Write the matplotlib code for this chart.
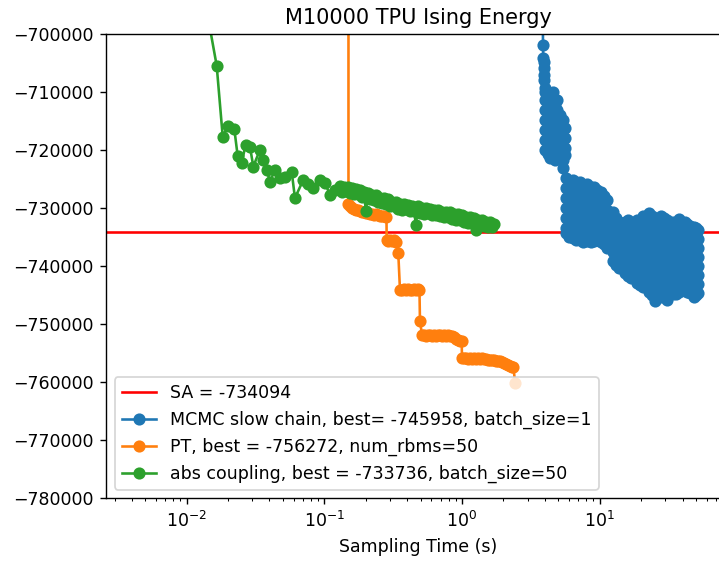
import matplotlib
matplotlib.use('Agg')
import matplotlib.pyplot as plt

# SA reference energy
sa_energy = -734094

# MCMC slow chain (batch_size=1), one row per stretch of samples
mcmc_time = [
    3.86, 3.875, 3.89, 3.91, 3.93, 3.95, 3.97, 3.99, 4.00, 4.58,
    4.01, 4.01, 4.01, 4.01, 4.01, 4.01,
    4.18, 4.18, 4.18, 4.18, 4.18, 4.18,
    4.36, 4.36, 4.36, 4.36, 4.36, 4.36, 4.36,
    4.73, 4.73, 4.73, 4.73, 4.73, 4.73, 4.73,
    4.94, 4.94, 4.94, 4.94, 4.94, 4.94,
    5.15, 5.15, 5.15, 5.15, 5.15,
    5.41, 5.41, 5.41, 5.41, 5.41,
    5.40,
    5.60, 5.60, 5.60, 5.60,
    5.69, 5.69, 5.69, 5.69, 5.69, 5.69, 5.69,
    6.03, 6.03, 6.03, 6.03, 6.03, 6.03, 6.03,
    6.40, 6.40, 6.40, 6.40, 6.40, 6.40, 6.40,
    6.78, 6.78, 6.78, 6.78, 6.78, 6.78, 6.78,
    7.19, 7.19, 7.19, 7.19, 7.19, 7.19, 7.19,
    7.63, 7.63, 7.63, 7.63, 7.63, 7.63, 7.63,
    8.09, 8.09, 8.09, 8.09, 8.09, 8.09, 8.09,
    8.58, 8.58, 8.58, 8.58, 8.58, 8.58, 8.58,
    9.09, 9.09, 9.09, 9.09, 9.09, 9.09, 9.09,
    9.64, 9.64, 9.64, 9.64, 9.64, 9.64,
    10.22, 10.22, 10.22, 10.22, 10.22, 10.22,
    10.75, 10.75, 10.75, 10.75, 10.75, 10.75,
    11.30, 11.30, 11.30, 11.30, 11.30, 11.30,
    12.50, 12.50, 12.50, 12.50, 12.50, 12.50,
    13.13, 13.13, 13.13, 13.13, 13.13, 13.13,
    13.81, 13.81, 13.81, 13.81, 13.81, 13.81,
    15.27, 15.27, 15.27, 15.27, 15.27, 15.27, 15.27,
    16.05, 16.05, 16.05, 16.05, 16.05, 16.05, 16.05,
    16.88, 16.88, 16.88, 16.88, 16.88, 16.88, 16.88,
    18.66, 18.66, 18.66, 18.66, 18.66, 18.66, 18.66, 18.66,
    19.62, 19.62, 19.62, 19.62, 19.62, 19.62, 19.62, 19.62,
    20.63, 20.63, 20.63, 20.63, 20.63, 20.63, 20.63, 20.63, 20.63,
    22.80, 22.80, 22.80, 22.80, 22.80, 22.80, 22.80, 22.80, 22.80, 22.80,
    23.98, 23.98, 23.98, 23.98, 23.98, 23.98, 23.98, 23.98, 23.98,
    25.21, 25.21, 25.21, 25.21, 25.21, 25.21, 25.21, 25.21, 25.21, 25.21,
    27.87, 27.87, 27.87, 27.87, 27.87, 27.87, 27.87, 27.87, 27.87, 27.87,
    29.31, 29.31, 29.31, 29.31, 29.31, 29.31, 29.31, 29.31, 29.31,
    30.81, 30.81, 30.81, 30.81, 30.81, 30.81, 30.81, 30.81, 30.81, 30.81,
    34.06, 34.06, 34.06, 34.06, 34.06, 34.06, 34.06, 34.06, 34.06,
    35.83, 35.83, 35.83, 35.83, 35.83, 35.83, 35.83, 35.83,
    37.65, 37.65, 37.65, 37.65, 37.65, 37.65, 37.65, 37.65, 37.65,
    41.63, 41.63, 41.63, 41.63, 41.63, 41.63, 41.63, 41.63, 41.63,
    43.05, 43.05, 43.05, 43.05, 43.05, 43.05, 43.05, 43.05,
    45.27, 45.27, 45.27, 45.27, 45.27, 45.27, 45.27, 45.27, 45.27,
    48.40, 48.40, 48.40, 48.40, 48.40, 48.40, 48.40, 48.40, 48.40,
    50.04, 50.04, 50.04, 50.04, 50.04, 50.04, 50.04, 50.04,
    51.75, 51.75, 51.75, 51.75, 51.75, 51.75, 51.75, 51.75,
]
mcmc_energy = [
    -690000, -701892, -704128, -704816, -705848, -707052, -707912, -709288, -709976, -709976,
    -711352, -713072, -714792, -716512, -718232, -719952,
    -712040, -713760, -715480, -717200, -718920, -720640,
    -721328, -719608, -717888, -716168, -714448, -712728, -711008,
    -712212, -713932, -715652, -717372, -719092, -720812, -721672,
    -719952, -718232, -716512, -714792, -713072, -711352,
    -720812, -719092, -717372, -715652, -713932,
    -714792, -716512, -718232, -719952, -721672,
    -723048,
    -716168, -717888, -719608, -720812,
    -724768, -726488, -728208, -729928, -731648, -733368, -734228,
    -725628, -727348, -729068, -730788, -732508, -734228, -734916,
    -735088, -733368, -731648, -729928, -728208, -726488, -725112,
    -735432, -733712, -731992, -730272, -728552, -726832, -725456,
    -725456, -727176, -728896, -730616, -732336, -734056, -735432,
    -725972, -727692, -729412, -731132, -732852, -734572, -735776,
    -735604, -733884, -732164, -730444, -728724, -727004, -725800,
    -735776, -734056, -732336, -730616, -728896, -727176, -726316,
    -726316, -728036, -729756, -731476, -733196, -734916, -735604,
    -726832, -728552, -730272, -731992, -733712, -735432,
    -735776, -734056, -732336, -730616, -728896, -727176,
    -736120, -734400, -732680, -730960, -729240, -727864,
    -728552, -730272, -731992, -733712, -735432, -736808,
    -730616, -732336, -734056, -735776, -737496, -739044,
    -731648, -733368, -735088, -736808, -738528, -739732,
    -740248, -738528, -736808, -735088, -733368, -732336,
    -732336, -733884, -735432, -736980, -738528, -739904, -741108,
    -741624, -739904, -738184, -736464, -734744, -733024, -731992,
    -741968, -740420, -738872, -737324, -735776, -734228, -732680,
    -731992, -733540, -735088, -736636, -738184, -739732, -741280, -742828,
    -743172, -742312, -740592, -738872, -737152, -735432, -733712, -731992,
    -743516, -741968, -740420, -738872, -737324, -735776, -734228, -732680, -731304,
    -730788, -732336, -733884, -735432, -736980, -738528, -740076, -741624, -743172, -744376,
    -744892, -743172, -741452, -739732, -738012, -736292, -734572, -732852, -731304,
    -745958, -744204, -742656, -741108, -739560, -738012, -736464, -734916, -733368, -731648,
    -731304, -732852, -734400, -735948, -737496, -739044, -740592, -742140, -743688, -745236,
    -731648, -733368, -735088, -736808, -738528, -740248, -741968, -743688, -745064,
    -745752, -744204, -742656, -741108, -739560, -738012, -736464, -734916, -733368, -731992,
    -732336, -733884, -735432, -736980, -738528, -740076, -741624, -743172, -744720,
    -744720, -743000, -741280, -739560, -737840, -736120, -734400, -732680,
    -744376, -742828, -741280, -739732, -738184, -736636, -735088, -733540, -731820,
    -732336, -733884, -735432, -736980, -738528, -740076, -741624, -743172, -744032,
    -732680, -734400, -736120, -737840, -739560, -741280, -743000, -744376,
    -744548, -743000, -741452, -739904, -738356, -736808, -735260, -733712, -733024,
    -733196, -734744, -736292, -737840, -739388, -740936, -742484, -744032, -745236,
    -744892, -743172, -741452, -739732, -738012, -736292, -734572, -733368,
    -744548, -743000, -741452, -739904, -738356, -736808, -735260, -733712,
]

# parallel tempering (num_rbms=50)
pt_time = [
    0.1499, 0.1499, 0.1537, 0.1589, 0.1643, 0.1699, 0.1757, 0.1816, 0.1878, 0.1942,
    0.2008, 0.2076, 0.2147, 0.2220, 0.2296, 0.2374, 0.2454, 0.2538, 0.2624, 0.2713,
    0.2829, 0.2840, 0.2901, 0.3000, 0.3102, 0.3207, 0.3316, 0.3446, 0.3546, 0.3666,
    0.3791, 0.3920, 0.4053, 0.4191, 0.4333, 0.4481, 0.4633, 0.4790, 0.4913, 0.4953,
    0.5122, 0.5296, 0.5476, 0.5662, 0.5855, 0.6054, 0.6260, 0.6472, 0.6693, 0.6920,
    0.7155, 0.7399, 0.7650, 0.7910, 0.8179, 0.8457, 0.8745, 0.9042, 0.9350, 0.9668,
    0.9950, 1.000, 1.034, 1.069, 1.105, 1.143, 1.182, 1.222, 1.264, 1.307,
    1.351, 1.397, 1.445, 1.494, 1.545, 1.597, 1.652, 1.708, 1.766, 1.826,
    1.888, 1.952, 2.018, 2.087, 2.158, 2.232, 2.308, 2.366, 2.426,
]
pt_energy = [
    -650000, -729240, -729584, -729928, -730100, -730272, -730272, -730444, -730616, -730616,
    -730788, -730788, -730960, -730960, -731132, -730960, -731132, -731304, -731304, -731304,
    -731476, -735432, -735604, -735432, -735604, -735432, -735776, -737668, -744032, -744032,
    -743860, -744032, -743860, -744032, -744032, -743860, -744032, -743860, -744032, -749364,
    -751772, -751772, -751944, -751772, -751772, -751944, -751772, -751944, -751772, -751772,
    -751944, -751772, -751944, -751772, -751944, -751944, -752116, -752460, -752632, -752804,
    -752804, -755728, -755728, -755728, -755900, -755728, -755900, -755728, -755900, -755728,
    -755900, -755728, -755900, -755900, -756072, -756072, -756072, -756072, -756244, -756244,
    -756244, -756416, -756588, -756760, -756932, -757104, -757276, -757276, -760028,
]

# abs coupling (batch_size=50)
abs_time = [
    0.01263, 0.01655, 0.01830, 0.02009, 0.02220, 0.02350, 0.02513, 0.02686, 0.02887, 0.03051,
    0.03412, 0.03606, 0.03817, 0.04033, 0.04385, 0.04769, 0.05184, 0.05798, 0.06126, 0.07039,
    0.07613, 0.08318, 0.09306, 0.1012, 0.1100, 0.1196,
    0.1300, 0.1344, 0.1390, 0.1437, 0.1486, 0.1537, 0.1589, 0.1643, 0.1699, 0.1757,
    0.1816, 0.1878, 0.1942, 0.2008, 0.2076, 0.2147, 0.2220, 0.2296, 0.2374, 0.2454,
    0.2538, 0.2624, 0.2713, 0.2806, 0.2901, 0.3000, 0.3102, 0.3207, 0.3316, 0.3429,
    0.3546, 0.3666, 0.3791, 0.3920, 0.4053, 0.4191, 0.4333, 0.4481, 0.4633, 0.4790,
    0.4953, 0.5122, 0.5296, 0.5476, 0.5662, 0.5855, 0.6054, 0.6260, 0.6472, 0.6693,
    0.6920, 0.7155, 0.7399, 0.7650, 0.7910, 0.8179, 0.8457, 0.8745, 0.9042, 0.9350,
    0.9668, 1.000, 1.034, 1.069, 1.105, 1.143, 1.182, 1.222, 1.264, 1.307,
    1.351, 1.397, 1.445, 1.494, 1.545, 1.597, 1.652, 1.708,
]
abs_energy = [
    -690000, -705452, -717664, -715824, -716288, -720984, -722136, -719092, -719384, -722824,
    -719952, -721672, -723392, -725404, -723392, -724768, -724544, -723684, -728260, -725112,
    -725800, -726540, -725112, -725628, -727692, -726832,
    -726144, -727176, -726402, -727090, -726316, -727348, -726608, -727572, -726660, -727623,
    -726884, -728036, -727279, -730564, -727348, -728483, -727744, -728552, -727795, -728948,
    -728208, -729171, -728260, -729240, -728483, -729636, -728896, -729687, -728948, -730100,
    -729326, -730255, -729274, -730203, -729395, -730496, -729704, -730444, -732852, -729704,
    -730805, -730014, -730926, -729962, -730874, -730083, -731184, -730375, -731132, -730324,
    -731424, -730633, -731545, -730582, -731493, -730702, -731820, -731046, -731975, -731029,
    -731975, -731201, -732319, -731528, -732474, -731528, -732474, -731700, -733736, -732026,
    -732972, -732026, -733144, -732370, -733299, -732353, -733299, -732680,
]

# original was rendered larger and shown at this size, hence dpi 125
fig = plt.figure(figsize=(719 / 125, 562 / 125), dpi=125)
# axes run a little past the right edge, as in the cropped original
ax = fig.add_axes([0.1474, 0.1130, 0.8679, 0.8265])

ax.axhline(sa_energy, color='r', label=f'SA = {sa_energy}')
ax.plot(mcmc_time, mcmc_energy, '-o',
        label='MCMC slow chain, best= -745958, batch_size=1')
ax.plot(pt_time, pt_energy, '-o',
        label='PT, best = -756272, num_rbms=50')
ax.plot(abs_time, abs_energy, '-o',
        label='abs coupling, best = -733736, batch_size=50')

ax.set_xscale('log')
ax.set_xlim(0.002599, 88.4)
ax.set_ylim(-780000, -700000)
ax.set_title('M10000 TPU Ising Energy')
ax.set_xlabel('Sampling Time (s)')
ax.legend(loc='lower left')

fig.savefig('out.png', dpi=125)
